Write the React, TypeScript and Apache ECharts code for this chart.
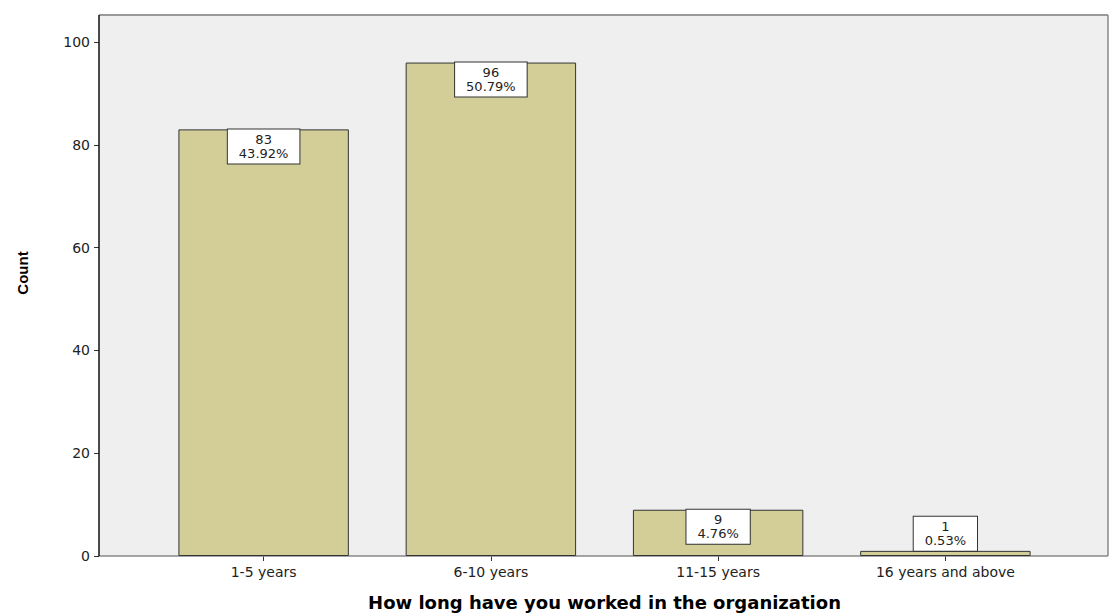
import React, { useEffect, useRef } from "react";
import * as echarts from "echarts";

const categories = ["1-5 years", "6-10 years", "11-15 years", "16 years and above"];
const counts = [83, 96, 9, 1];
const percents = ["43.92%", "50.79%", "4.76%", "0.53%"];
const yTicks = { min: 0, max: 100, interval: 20 };

const W = 1109;
const H = 613;
const PLOT_L = 99;
const PLOT_R = 1108;
const PLOT_T = 15;
const PLOT_B = 556;

export default function App() {
  const ref = useRef<HTMLDivElement>(null);
  useEffect(() => {
    if (!ref.current) return;
    const chart = echarts.init(ref.current, undefined, { renderer: "svg" });
    const font = "DejaVu Sans, Verdana, sans-serif";
    chart.setOption({
      animation: false,
      backgroundColor: "#ffffff",
      grid: {
        left: 150,
        right: W - 1059,
        top: 42,
        bottom: H - PLOT_B,
        containLabel: false,
        outerBoundsMode: "none",
      },
      graphic: [
        {
          type: "rect",
          z: -10,
          silent: true,
          shape: { x: PLOT_L, y: PLOT_T, width: PLOT_R - PLOT_L, height: PLOT_B - PLOT_T },
          style: { fill: "#efefef" },
        },
        {
          type: "line",
          z: 1,
          shape: { x1: PLOT_L, y1: PLOT_T, x2: PLOT_R, y2: PLOT_T },
          style: { stroke: "#999999", lineWidth: 2 },
        },
        {
          type: "line",
          z: 1,
          shape: { x1: PLOT_R, y1: PLOT_T, x2: PLOT_R, y2: PLOT_B },
          style: { stroke: "#888888", lineWidth: 1.5 },
        },
        {
          type: "line",
          z: 1,
          shape: { x1: PLOT_L, y1: PLOT_B, x2: PLOT_R, y2: PLOT_B },
          style: { stroke: "#888888", lineWidth: 1.5 },
        },
        {
          type: "line",
          z: 100,
          shape: { x1: PLOT_L, y1: PLOT_T, x2: PLOT_L, y2: PLOT_B },
          style: { stroke: "#111111", lineWidth: 1.5 },
        },
        {
          type: "text",
          x: 22,
          y: 273,
          rotation: Math.PI / 2,
          style: {
            text: "Count",
            fill: "#000000",
            font: "bold 15px 'Liberation Sans Narrow', 'Liberation Sans', Arial, sans-serif",
            align: "center",
            verticalAlign: "middle",
          },
        },
      ],
      xAxis: {
        type: "category",
        data: categories,
        axisLine: { show: false },
        axisTick: { show: true, alignWithLabel: true, length: 5, lineStyle: { color: "#333333" } },
        axisLabel: { color: "#222222", fontSize: 14, fontFamily: font, margin: 9 },
        name: "How long have you worked in the organization",
        nameLocation: "middle",
        nameGap: 37,
        nameTextStyle: { color: "#000000", fontSize: 18, fontWeight: "bold", fontFamily: font },
      },
      yAxis: {
        type: "value",
        min: yTicks.min,
        max: yTicks.max,
        interval: yTicks.interval,
        offset: 51,
        axisLine: { show: false },
        axisTick: { show: true, length: 5, lineStyle: { color: "#333333" } },
        axisLabel: { color: "#222222", fontSize: 14, fontFamily: font, margin: 9 },
        splitLine: { show: false },
      },
      series: [
        {
          type: "bar",
          data: counts.map((v) => ({
            value: v,
            label: {
              position: v < 5 ? "top" : "insideTop",
            },
          })),
          barCategoryGap: "25%",
          itemStyle: { color: "#d3ce98", borderColor: "#333333", borderWidth: 1 },
          label: {
            show: true,
            distance: 0,
            formatter: (p: any) => `${counts[p.dataIndex]}\n${percents[p.dataIndex]}`,
            color: "#222222",
            fontSize: 13,
            lineHeight: 14,
            fontFamily: font,
            backgroundColor: "#ffffff",
            borderColor: "#333333",
            borderWidth: 1,
            padding: [3, 11, 3, 11],
            align: "center",
          },
        },
      ],
    });
    return () => chart.dispose();
  }, []);
  return (
    <div
      ref={ref}
      style={{ position: "fixed", left: 0, top: 0, width: W, height: H }}
    />
  );
}
